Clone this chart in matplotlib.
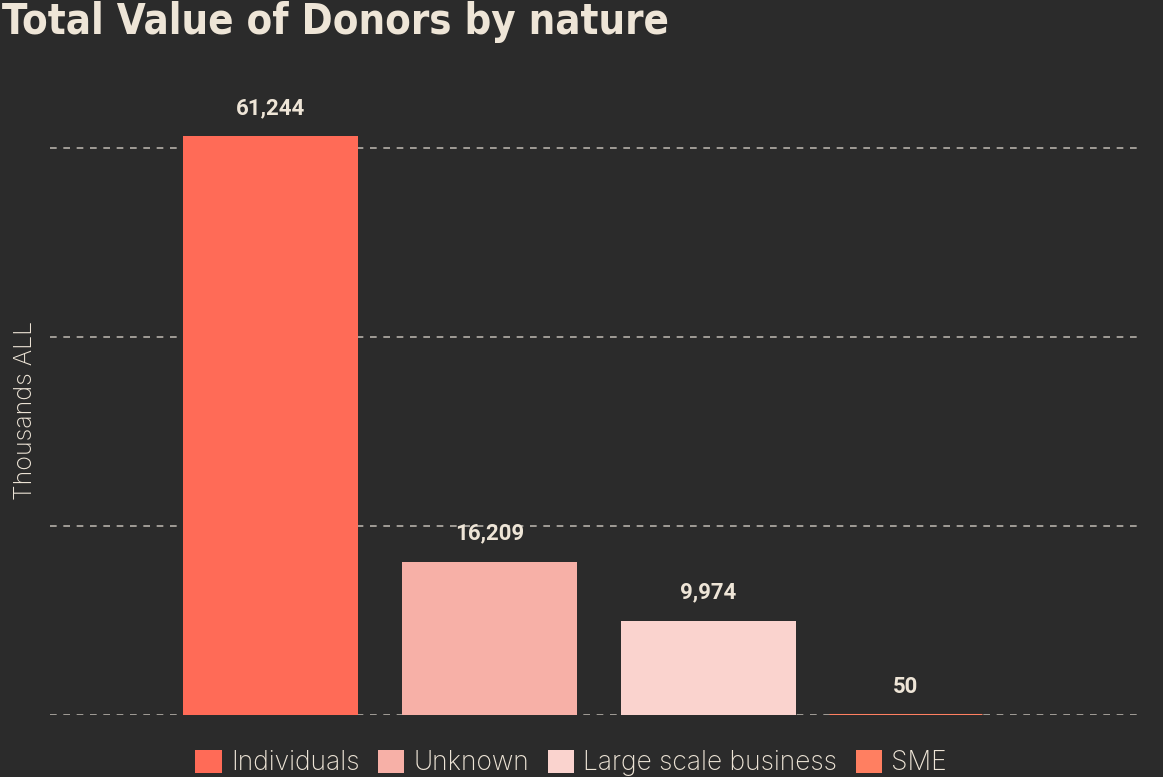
import matplotlib
matplotlib.use("Agg")
import matplotlib.pyplot as plt
from matplotlib.patches import Patch

categories = ["Individuals", "Unknown", "Large scale business", "SME"]
values = [61244, 16209, 9974, 50]
colors = ["#FF6B57", "#F7B0A7", "#FAD3CE", "#FF7F61"]
widths = [0.8, 0.8, 0.8, 0.7]
gridvals = [0, 20000, 40000, 60000]

BG = "#2B2B2B"
TXT = "#EEE5D7"

W, H = 1163, 777
fig = plt.figure(figsize=(W/100, H/100), dpi=100, facecolor=BG)
ax = fig.add_axes([50/W, 1-715/H, (1137-50)/W, (715-91)/H])
ax.set_facecolor(BG)

xs = [0, 1, 2, 2.9]
ax.bar(xs, values, width=widths, color=colors, edgecolor=colors,
       linewidth=[0, 0, 0, 2.2], zorder=3)
for x, v in zip(xs, values):
    ax.text(x, v + 1800, f"{v:,}", ha="center", va="bottom", color=TXT,
            fontsize=16, fontweight="bold", family="Roboto", zorder=4)

ax.set_xlim(-1.01, 3.96)
ax.set_ylim(0, 66000)
ax.set_yticks(gridvals)
ax.yaxis.grid(True, color="#B5B0A8", linestyle=(0, (4, 4)), linewidth=1.2, zorder=1)
ax.tick_params(left=False, bottom=False, labelleft=False, labelbottom=False)
for s in ax.spines.values():
    s.set_visible(False)

fig.text(26/W, 1-410/H, "Thousands ALL", rotation=90, ha="center", va="center",
         color=TXT, fontsize=18, family="Inter", fontweight="light")

fig.text(2/W, 1-34/H, "Total Value of Donors by nature", ha="left", va="baseline",
         color=TXT, fontsize=30, fontweight="bold", fontstretch="condensed",
         family="DejaVu Sans")

handles = [Patch(facecolor=c, edgecolor="none") for c in colors]
leg = fig.legend(handles, categories, loc="center", ncol=4,
                 bbox_to_anchor=(571/W, 1-763/H), frameon=False,
                 prop={"family": "Inter", "size": 19, "weight": "light"},
                 handlelength=1.0, handleheight=1.0, handletextpad=0.35,
                 columnspacing=0.7, labelcolor=TXT)

fig.savefig("out.png", dpi=100, facecolor=BG)
